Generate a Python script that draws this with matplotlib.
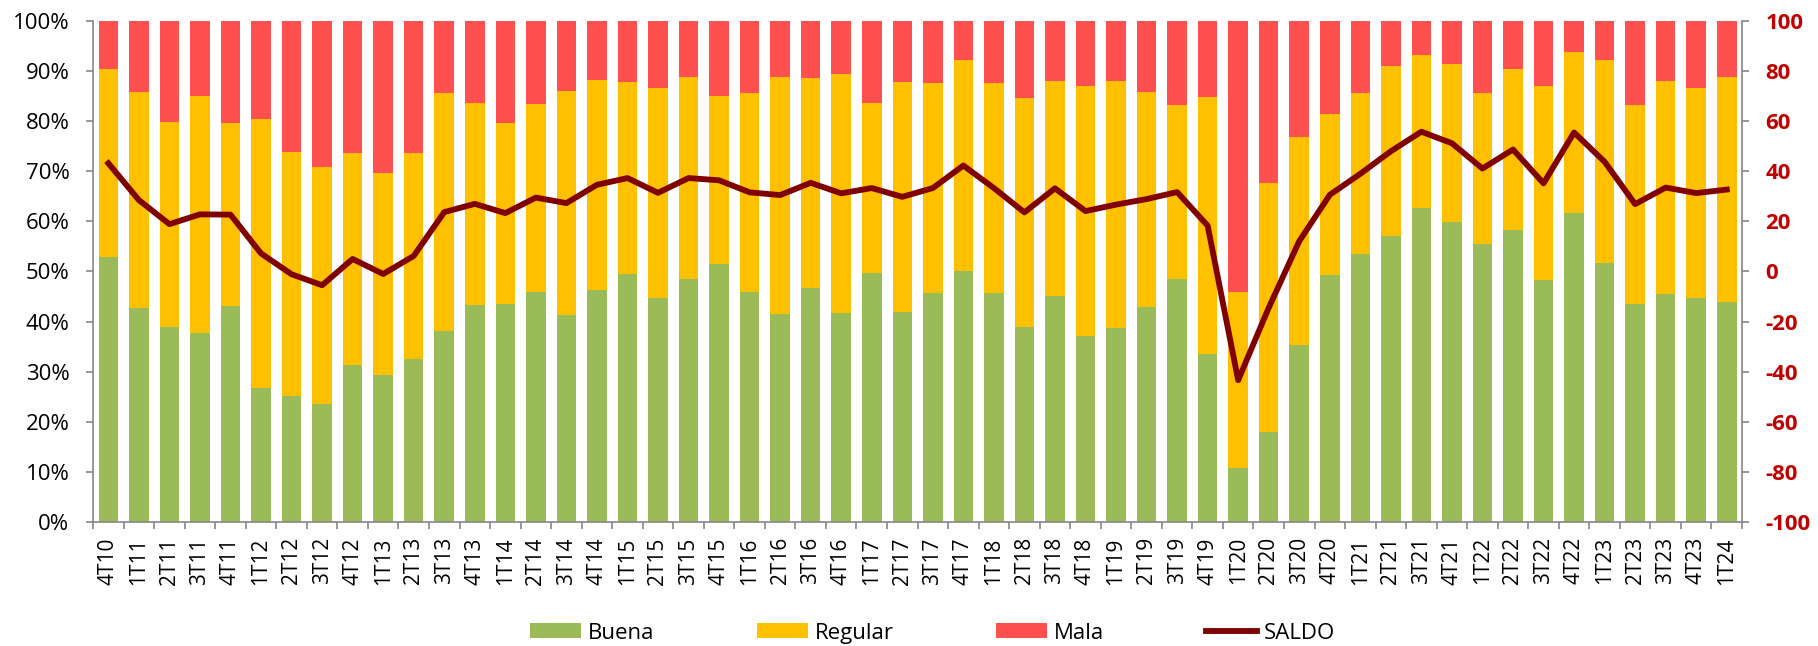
import matplotlib
matplotlib.use("Agg")
import matplotlib.pyplot as plt
import numpy as np
from matplotlib.ticker import FixedLocator

periods = ["4T10",
           "1T11", "2T11", "3T11", "4T11",
           "1T12", "2T12", "3T12", "4T12",
           "1T13", "2T13", "3T13", "4T13",
           "1T14", "2T14", "3T14", "4T14",
           "1T15", "2T15", "3T15", "4T15",
           "1T16", "2T16", "3T16", "4T16",
           "1T17", "2T17", "3T17", "4T17",
           "1T18", "2T18", "3T18", "4T18",
           "1T19", "2T19", "3T19", "4T19",
           "1T20", "2T20", "3T20", "4T20",
           "1T21", "2T21", "3T21", "4T21",
           "1T22", "2T22", "3T22", "4T22",
           "1T23", "2T23", "3T23", "4T23",
           "1T24"]

buena = [52.8,
         42.7, 39.0, 37.8, 43.1,
         26.7, 25.1, 23.6, 31.3,
         29.3, 32.5, 38.1, 43.3,
         43.6, 46.0, 41.3, 46.4,
         49.4, 44.8, 48.4, 51.4,
         46.0, 41.6, 46.8, 41.8,
         49.6, 42.0, 45.7, 50.0,
         45.7, 38.9, 45.2, 37.1,
         38.7, 43.0, 48.4, 33.5,
         10.7, 17.9, 35.3, 49.2,
         53.4, 57.0, 62.6, 59.8,
         55.4, 58.3, 48.2, 61.7,
         51.6, 43.6, 45.5, 44.7,
         43.9]

regular = [37.6,
           43.1, 40.9, 47.2, 36.5,
           53.8, 48.7, 47.3, 42.4,
           40.4, 41.2, 47.5, 40.4,
           36.1, 37.5, 44.7, 41.8,
           38.5, 41.8, 40.5, 33.6,
           39.6, 47.3, 41.8, 47.6,
           34.1, 45.8, 41.9, 42.3,
           41.9, 45.8, 42.8, 49.9,
           49.3, 42.9, 34.9, 51.3,
           35.2, 49.7, 41.5, 32.2,
           32.2, 34.0, 30.6, 31.6,
           30.3, 32.1, 38.8, 32.1,
           40.6, 39.7, 42.5, 41.9,
           44.9]

mala = [9.6,
        14.2, 20.1, 15.0, 20.4,
        19.5, 26.2, 29.1, 26.3,
        30.3, 26.3, 14.4, 16.3,
        20.3, 16.5, 14.0, 11.8,
        12.1, 13.4, 11.1, 15.0,
        14.4, 11.1, 11.4, 10.6,
        16.3, 12.2, 12.4, 7.7,
        12.4, 15.3, 12.0, 13.0,
        12.0, 14.1, 16.7, 15.2,
        54.1, 32.4, 23.2, 18.6,
        14.4, 9.0, 6.8, 8.6,
        14.3, 9.6, 13.0, 6.2,
        7.8, 16.7, 12.0, 13.4,
        11.2]

saldo = [43.2,
         28.5, 18.9, 22.8, 22.7,
         7.2, -1.1, -5.5, 5.0,
         -1.0, 6.2, 23.7, 27.0,
         23.3, 29.5, 27.3, 34.6,
         37.3, 31.4, 37.3, 36.4,
         31.6, 30.5, 35.4, 31.2,
         33.3, 29.8, 33.3, 42.3,
         33.3, 23.6, 33.2, 24.1,
         26.7, 28.9, 31.7, 18.3,
         -43.4, -14.5, 12.1, 30.6,
         39.0, 48.0, 55.8, 51.2,
         41.1, 48.7, 35.2, 55.5,
         43.8, 26.9, 33.5, 31.3,
         32.7]

left_ticks = [0, 10, 20, 30, 40, 50, 60, 70, 80, 90, 100]
right_ticks = [-100, -80, -60, -40, -20, 0, 20, 40, 60, 80, 100]

plt.rcParams['font.family'] = ['Open Sans', 'DejaVu Sans']

fig = plt.figure(figsize=(18.18, 6.46), dpi=100)
ax = fig.add_axes([0.0512, 0.192, 0.9070, 0.7755])

x = np.arange(len(periods))
bw = 0.64
c_buena = "#9BBB59"
c_reg = "#FFC000"
c_mala = "#FF5050"
c_saldo = "#800000"
c_axis = "#868686"

b_arr = np.array(buena)
r_arr = np.array(regular)
m_arr = np.array(mala)

h1 = ax.bar(x, b_arr, bw, color=c_buena, label="Buena", zorder=2)
h2 = ax.bar(x, r_arr, bw, bottom=b_arr, color=c_reg, label="Regular", zorder=2)
h3 = ax.bar(x, m_arr, bw, bottom=b_arr + r_arr, color=c_mala, label="Mala", zorder=2)

ax.set_xlim(-0.5, len(periods) - 0.5)
ax.set_ylim(0, 100)
ax.set_yticks(left_ticks)
ax.set_yticklabels([f"{t}%" for t in left_ticks], fontsize=16)
ax.set_xticks(x)
ax.set_xticklabels(periods, rotation=90, fontsize=15)
ax.tick_params(axis='x', length=0, pad=11)
ax.xaxis.set_minor_locator(FixedLocator(np.arange(-0.5, len(periods), 1.0)))
ax.tick_params(axis='x', which='minor', length=5, color=c_axis, width=1.2)
ax.tick_params(axis='y', length=5, color=c_axis, width=1.2, pad=12)
for s in ["top", "right"]:
    ax.spines[s].set_visible(False)
for s in ["left", "bottom"]:
    ax.spines[s].set_color(c_axis)
    ax.spines[s].set_linewidth(1.2)

ax2 = ax.twinx()
h4, = ax2.plot(x, saldo, color=c_saldo, lw=4.2, label="SALDO", zorder=5)
ax2.set_ylim(-100, 100)
ax2.set_yticks(right_ticks)
ax2.set_yticklabels([str(t) for t in right_ticks], fontsize=16,
                    color="#C00000", fontweight="bold")
ax2.tick_params(axis='y', length=5, color=c_axis, width=1.2, pad=12)
for s in ["top", "left", "bottom"]:
    ax2.spines[s].set_visible(False)
ax2.spines["right"].set_color(c_axis)
ax2.spines["right"].set_linewidth(1.2)

fig.legend(handles=[h1, h2, h3, h4], labels=["Buena", "Regular", "Mala", "SALDO"],
           loc="center", bbox_to_anchor=(0.513, 0.02), ncol=4, frameon=False,
           fontsize=16, handlelength=2.3, handleheight=0.68, columnspacing=4.6,
           handletextpad=0.3, borderpad=0)

fig.savefig("out.png", dpi=100)
